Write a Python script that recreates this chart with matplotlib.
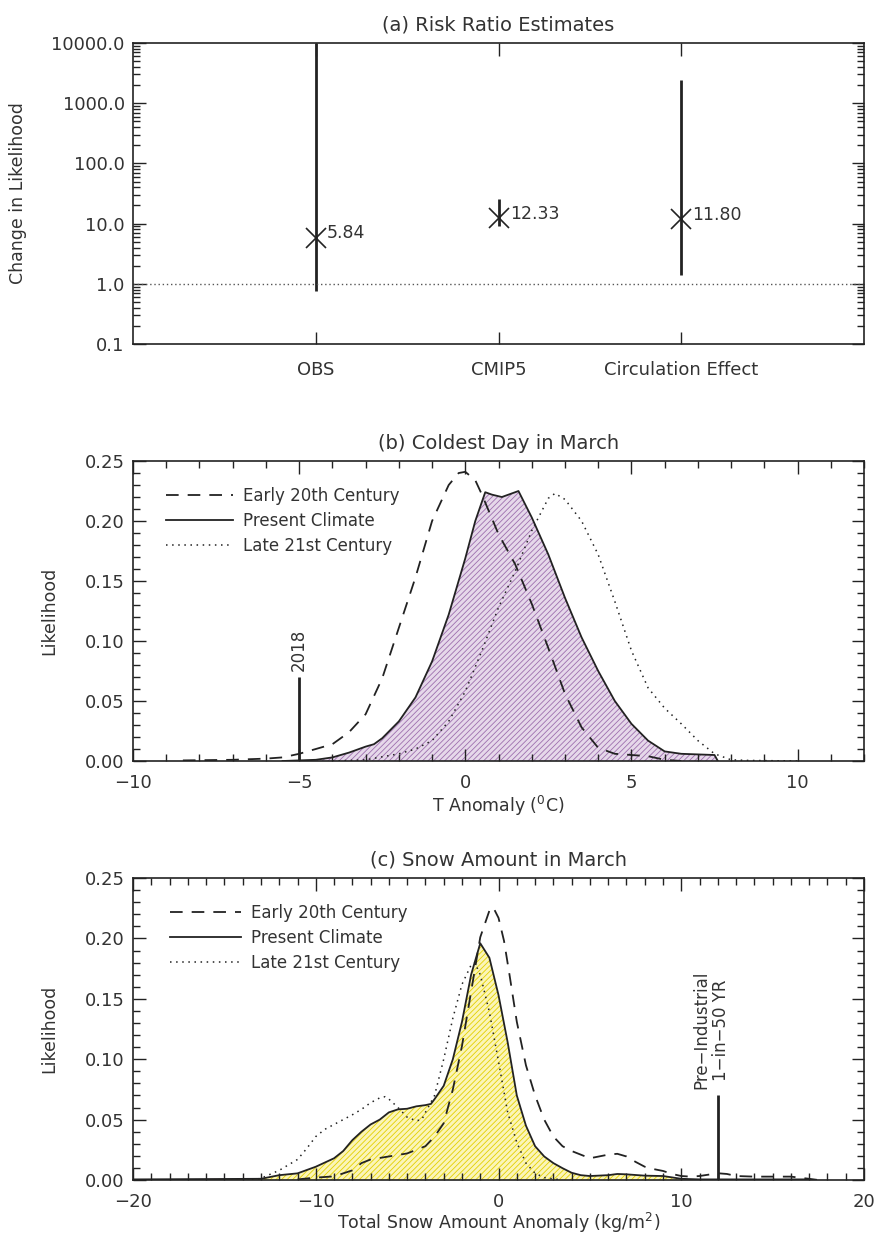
import numpy as np
import matplotlib.pyplot as plt
from matplotlib.ticker import FixedLocator, FixedFormatter, MultipleLocator, FormatStrFormatter, LogLocator, NullFormatter

plt.rcParams['font.family'] = ['DejaVu Sans']
plt.rcParams['hatch.linewidth'] = 0.6
INK = '#222222'

# (a) risk ratios
rr_names = ["OBS", "CMIP5", "Circulation Effect"]
rr_best = [5.84, 12.33, 11.80]
rr_low = [0.75, 9.0, 1.38]
rr_high = [10000.0, 26.0, 2400.0]

# (b) coldest day in March, T anomaly (deg C)
b_early_x = [-8.5, -7, -6, -5.5, -5, -4.5, -4, -3.5, -3, -2.5, -2, -1.5, -1, -0.5, -0.2, 0, 0.3,
             0.5, 1.0, 1.5, 2.0, 2.5, 3.0, 3.5, 4.0, 4.5, 5.0, 5.5, 6.0, 6.5]
b_early_y = [0.0005, 0.001, 0.002, 0.003, 0.006, 0.010, 0.014, 0.024, 0.039, 0.069, 0.111, 0.153,
             0.200, 0.230, 0.240, 0.241, 0.234, 0.222, 0.189, 0.164, 0.131, 0.094, 0.056, 0.028,
             0.011, 0.006, 0.005, 0.004, 0.001, 0.0]
b_pres_x = [-5.5, -5, -4.5, -4, -3.5, -3, -2.75, -2.5, -2, -1.5, -1, -0.5, 0, 0.3, 0.6, 0.8, 1.1,
            1.3, 1.6, 2.0, 2.5, 3.0, 3.5, 4.0, 4.5, 5.0, 5.5, 6.0, 6.5, 7.0, 7.5, 7.6]
b_pres_y = [0.0, 0.0005, 0.001, 0.003, 0.007, 0.012, 0.014, 0.019, 0.033, 0.053, 0.083, 0.122,
            0.169, 0.200, 0.224, 0.222, 0.220, 0.222, 0.225, 0.203, 0.172, 0.136, 0.103, 0.075,
            0.050, 0.031, 0.017, 0.008, 0.006, 0.0055, 0.005, 0.0]
b_late_x = [-4, -3, -2, -1.5, -1, -0.5, 0, 0.5, 1.0, 1.5, 2.0, 2.5, 2.7, 3.0, 3.5, 4.0, 4.5, 5.0,
            5.5, 6.0, 6.5, 7.0, 7.5, 8.0, 8.5, 10.0]
b_late_y = [0.0, 0.001, 0.006, 0.010, 0.017, 0.033, 0.058, 0.092, 0.128, 0.158, 0.192, 0.219,
            0.223, 0.218, 0.200, 0.172, 0.133, 0.092, 0.061, 0.044, 0.031, 0.017, 0.006, 0.001,
            0.0005, 0.0]
b_event = -5.0

# (c) snow amount in March (kg/m2)
c_early_x = [-11, -10, -9, -8, -7.5, -7, -6, -5, -4, -3.5, -3, -2.5, -2, -1.5, -1.0, -0.5, -0.3,
             0, 0.3, 0.6, 1.0, 1.5, 2.0, 2.5, 3.0, 3.5, 4.0, 4.5, 5.0, 5.5, 6.0, 6.5, 7.0, 7.5,
             8.0, 8.5, 9.0, 9.5, 10.0, 10.5, 11, 12, 12.5, 13, 14, 15, 16, 17, 17.5]
c_early_y = [0.0005, 0.002, 0.003, 0.008, 0.014, 0.017, 0.0195, 0.022, 0.028, 0.036, 0.047,
             0.075, 0.111, 0.156, 0.201, 0.223, 0.226, 0.217, 0.198, 0.170, 0.131, 0.095, 0.070,
             0.050, 0.036, 0.028, 0.024, 0.021, 0.018, 0.0195, 0.021, 0.0217, 0.0195, 0.015,
             0.011, 0.009, 0.0075, 0.005, 0.0033, 0.0028, 0.0033, 0.0056, 0.005, 0.0033, 0.0028,
             0.0028, 0.0028, 0.001, 0.0]
c_pres_x = [-20, -13, -12, -11, -10, -9, -8.5, -8, -7.5, -7, -6.5, -6, -5.5, -5, -4.5, -4, -3.7,
            -3.5, -3, -2.5, -2, -1.5, -1.0, -0.5, 0, 0.5, 1.0, 1.5, 2.0, 2.5, 3.0, 3.5, 4.0, 4.5,
            5, 6, 6.5, 7, 8, 9, 10, 11, 17]
c_pres_y = [0.0005, 0.001, 0.004, 0.0055, 0.011, 0.018, 0.024, 0.033, 0.040, 0.046, 0.050, 0.056,
            0.0585, 0.059, 0.061, 0.062, 0.063, 0.067, 0.078, 0.100, 0.131, 0.170, 0.196, 0.184,
            0.153, 0.114, 0.070, 0.045, 0.028, 0.0195, 0.014, 0.0098, 0.006, 0.004, 0.0033, 0.004,
            0.005, 0.0047, 0.0036, 0.0033, 0.001, 0.0005, 0.0005]
c_late_x = [-13.5, -13, -12, -11, -10.5, -10, -9.5, -9, -8.5, -8, -7.5, -7, -6.5, -6.2, -6, -5.5,
            -5, -4.5, -4.2, -4, -3.5, -3, -2.5, -2, -1.5, -1.3, -1.0, -0.5, 0, 0.5, 1.0, 1.5, 2.0,
            2.5, 3.0, 3.5]
c_late_y = [0.0, 0.0014, 0.008, 0.017, 0.026, 0.036, 0.042, 0.046, 0.050, 0.054, 0.0585, 0.064,
            0.068, 0.069, 0.067, 0.060, 0.052, 0.049, 0.050, 0.056, 0.070, 0.100, 0.134, 0.162,
            0.178, 0.180, 0.170, 0.139, 0.098, 0.056, 0.031, 0.014, 0.0056, 0.002, 0.001, 0.0]
c_event = 12.0

labels = ["Early 20th Century", "Present Climate", "Late 21st Century"]

fig = plt.figure(figsize=(8.77, 12.36), dpi=100)
ax_a = fig.add_axes([0.1517, 0.7217, 0.8335, 0.2435])
ax_b = fig.add_axes([0.1517, 0.3843, 0.8335, 0.2427])
ax_c = fig.add_axes([0.1517, 0.0453, 0.8335, 0.2443])

for ax in (ax_a, ax_b, ax_c):
    ax.tick_params(which='both', direction='in', top=True, right=True, colors=INK,
                   labelsize=13, labelcolor='#333333')
    ax.tick_params(which='major', length=9, width=1)
    ax.tick_params(which='minor', length=5, width=1)
    ax.tick_params(axis='x', pad=9)
    ax.tick_params(axis='y', pad=6)
    for s in ax.spines.values():
        s.set_color(INK)
        s.set_linewidth(1.2)

# ---- (a)
pos = np.arange(1, len(rr_names) + 1)
ax_a.set_yscale('log')
ax_a.set_xlim(0, 4)
ax_a.set_ylim(0.1, 10000)
ax_a.vlines(pos, rr_low, rr_high, color=INK, lw=2)
ax_a.plot(pos, rr_best, 'x', ms=14, mew=1.2, color=INK)
for p, v in zip(pos, rr_best):
    ax_a.annotate(f"{v:.2f}", (p, v), xytext=(8, 3), textcoords='offset points',
                  fontsize=12.5, color='#333333', va='center', ha='left')
ax_a.axhline(1.0, color='#555555', lw=1, ls=(0, (1, 2)))
ax_a.xaxis.set_major_locator(FixedLocator(pos))
ax_a.xaxis.set_major_formatter(FixedFormatter(rr_names))
ax_a.tick_params(axis='x', pad=12)
yt = [0.1, 1, 10, 100, 1000, 10000]
ax_a.yaxis.set_major_locator(FixedLocator(yt))
ax_a.yaxis.set_major_formatter(FixedFormatter([f"{v:.1f}" for v in yt]))
ax_a.yaxis.set_minor_locator(LogLocator(base=10, subs=np.arange(2, 10)))
ax_a.yaxis.set_minor_formatter(NullFormatter())
ax_a.set_title("(a) Risk Ratio Estimates", fontsize=14, color='#333333', pad=9)
ax_a.set_ylabel("Change in Likelihood", fontsize=12.5, color='#333333')
ax_a.yaxis.set_label_coords(-0.145, 0.5)


def density_panel(ax, ex, ey, px, py, lx, ly, fc, hc, xlim, xmajor, lg_x, lg_len):
    ax.fill_between(px, 0, py, facecolor=fc, edgecolor=hc, hatch='//////', lw=0)
    ax.plot(ex, ey, color=INK, lw=1.3, ls=(0, (7, 5)), label=labels[0])
    ax.plot(px, py, color=INK, lw=1.3, label=labels[1])
    ax.plot(lx, ly, color=INK, lw=1.1, ls=(0, (1, 3)), label=labels[2])
    ax.set_xlim(*xlim)
    ax.set_ylim(0, 0.25)
    ax.xaxis.set_major_locator(MultipleLocator(xmajor))
    ax.xaxis.set_minor_locator(MultipleLocator(1))
    ax.yaxis.set_major_locator(MultipleLocator(0.05))
    ax.yaxis.set_minor_locator(MultipleLocator(0.01))
    ax.yaxis.set_major_formatter(FormatStrFormatter('%.2f'))
    ax.set_ylabel("Likelihood", fontsize=12.5, color='#333333')
    ax.yaxis.set_label_coords(-0.103, 0.5)
    ax.legend(loc='upper left', bbox_to_anchor=(lg_x, 0.915), frameon=False, fontsize=12,
              handlelength=lg_len, handletextpad=0.6, labelspacing=0.42, borderpad=0,
              borderaxespad=0, labelcolor='#333333')


density_panel(ax_b, b_early_x, b_early_y, b_pres_x, b_pres_y, b_late_x, b_late_y,
              '#e6d8ea', '#9d6fae', (-10, 12), 5, 0.045, 4.0)
ax_b.vlines(b_event, 0, 0.07, color=INK, lw=2)
ax_b.text(b_event, 0.075, "2018", rotation=90, ha='center', va='bottom', fontsize=12,
          color='#333333')
ax_b.set_title("(b) Coldest Day in March", fontsize=14, color='#333333', pad=9)
ax_b.set_xlabel("T Anomaly ($^0$C)", fontsize=12.5, color='#333333', labelpad=2)

density_panel(ax_c, c_early_x, c_early_y, c_pres_x, c_pres_y, c_late_x, c_late_y,
              '#fbf5b8', '#e3d000', (-20, 20), 10, 0.05, 4.3)
ax_c.vlines(c_event, 0, 0.07, color=INK, lw=2)
ax_c.text(c_event - 0.35, 0.075, "Pre\u2212Industrial\n1\u2212in\u221250 YR", rotation=90,
          ha='center', va='bottom', multialignment='center', fontsize=12, color='#333333',
          linespacing=1.1)
ax_c.set_title("(c) Snow Amount in March", fontsize=14, color='#333333', pad=9)
ax_c.set_xlabel("Total Snow Amount Anomaly (kg/m$^2$)", fontsize=12.5, color='#333333',
                labelpad=0)

fig.savefig("out.png", dpi=100)
